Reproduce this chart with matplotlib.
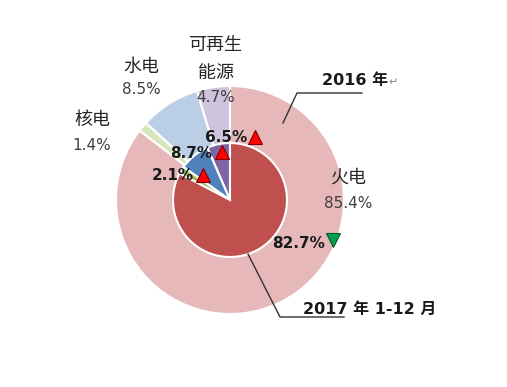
import matplotlib
matplotlib.use("Agg")
import matplotlib.pyplot as plt

plt.rcParams['font.family'] = ['DejaVu Sans', 'Noto Sans CJK SC']

categories = ['可再生能源', '水电', '核电', '火电']
share_2016 = [4.7, 8.5, 1.4, 85.4]
share_2017 = [6.5, 8.7, 2.1, 82.7]
outer_colors = ['#CFC4DD', '#BACFE6', '#D8E6C0', '#E6B8BA']
inner_colors = ['#8064A2', '#4F81BD', '#9BBB59', '#C0504D']

W, H = 507, 387
fig = plt.figure(figsize=(W / 100, H / 100), dpi=100)
ax = fig.add_axes([0, 0, 1, 1])

def Y(py):
    return H - py

cx, cy = 230, Y(200)
ax.pie(share_2016, colors=outer_colors, startangle=90, counterclock=True,
       radius=114, center=(cx, cy),
       wedgeprops=dict(edgecolor='white', linewidth=1.5))
ax.pie(share_2017, colors=inner_colors, startangle=90, counterclock=True,
       radius=57, center=(cx, cy),
       wedgeprops=dict(edgecolor='white', linewidth=1.5))
ax.set_xlim(0, W)
ax.set_ylim(0, H)
ax.set_aspect('equal')
ax.axis('off')

cjk = ['Noto Sans CJK SC', 'DejaVu Sans']
num_c = '#404040'
cat_c = '#262626'
fcat = 13
fnum = 11

# outer labels
ax.text(216, Y(45), '可再生', ha='center', va='center', fontsize=fcat, color=cat_c, family=cjk)
ax.text(216, Y(73), '能源', ha='center', va='center', fontsize=fcat, color=cat_c, family=cjk)
ax.text(216, Y(98), f'{share_2016[0]}%', ha='center', va='center', fontsize=fnum, color=num_c)
ax.text(141, Y(67), '水电', ha='center', va='center', fontsize=fcat, color=cat_c, family=cjk)
ax.text(141, Y(90), f'{share_2016[1]}%', ha='center', va='center', fontsize=fnum, color=num_c)
ax.text(92, Y(120), '核电', ha='center', va='center', fontsize=fcat, color=cat_c, family=cjk)
ax.text(92, Y(145), f'{share_2016[2]}%', ha='center', va='center', fontsize=fnum, color=num_c)
ax.text(348, Y(178), '火电', ha='center', va='center', fontsize=fcat, color=cat_c, family=cjk)
ax.text(348, Y(203), f'{share_2016[3]}%', ha='center', va='center', fontsize=fnum, color=num_c)

# inner bold labels with change markers
bold = dict(fontsize=fnum, fontweight='bold', color='#1a1a1a', va='center', ha='right')
ax.text(247, Y(138), f'{share_2017[0]}%', **bold)
ax.text(212, Y(153), f'{share_2017[1]}%', **bold)
ax.text(194, Y(176), f'{share_2017[2]}%', **bold)
ax.text(325, Y(243), f'{share_2017[3]}%', **bold)
up = dict(marker='^', ms=10, mfc='#FF0000', mec='#800000', mew=0.8, ls='none')
ax.plot([255], [Y(137)], **up)
ax.plot([222], [Y(152)], **up)
ax.plot([203], [Y(175)], **up)
ax.plot([333], [Y(240)], marker='v', ms=10, mfc='#00A050', mec='#005a2a',
        mew=0.8, ls='none')

# callouts
ax.plot([283, 297, 362], [Y(123), Y(93), Y(93)], color='#333333', lw=1.0)
ax.text(322, Y(80), '2016 年', ha='left', va='center', fontsize=11.5,
        fontweight='bold', color='#1a1a1a')
ax.text(388, Y(82), '↵', ha='left', va='center', fontsize=8, color='#888888')
ax.plot([248, 280, 344], [Y(254), Y(317), Y(317)], color='#333333', lw=1.0)
ax.text(303, Y(309), '2017 年 1-12 月', ha='left', va='center', fontsize=11.5,
        fontweight='bold', color='#1a1a1a')

fig.savefig('out.png', dpi=100)
